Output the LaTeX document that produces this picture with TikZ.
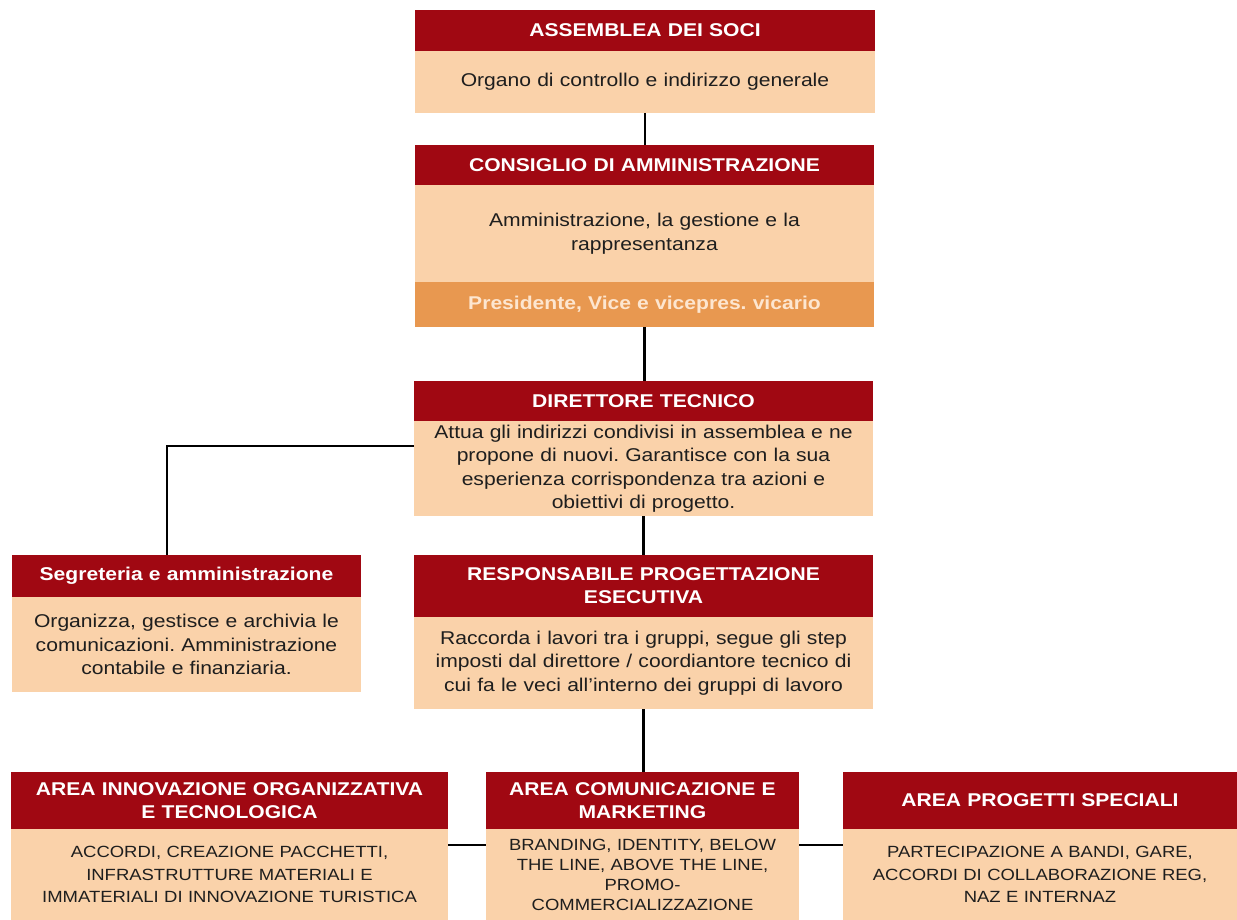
\documentclass[tikz,border=0pt]{standalone}
\usepackage{fontspec}
\setmainfont{Liberation Sans}[FakeStretch=1.14]
\frenchspacing
\definecolor{hred}{RGB}{160,8,18}
\definecolor{peach}{RGB}{250,210,170}
\definecolor{orng}{RGB}{232,152,80}
\definecolor{cream}{RGB}{253,230,208}
\definecolor{txt}{RGB}{30,30,30}
\begin{document}
\begin{tikzpicture}[x=1pt,y=-1pt,
  base/.style={inner sep=0pt, outer sep=0pt, anchor=north west, align=center},
  hdr/.style={base, fill=hred, text=white, font=\bfseries\fontsize{18.5}{23}\selectfont},
  bdy/.style={base, fill=peach, text=txt, font=\fontsize{18.5}{23.5}\selectfont},
  sbdy/.style={base, fill=peach, text=txt, font=\fontsize{16.2}{22.5}\selectfont},
  band/.style={base, fill=orng, text=cream, font=\bfseries\fontsize{18.5}{23}\selectfont},
  conn/.style={draw=black, line width=2.8pt}]
\useasboundingbox (0,0) rectangle (1237,920);
\fill[white] (0,0) rectangle (1237,920);

\node[hdr, minimum width=460pt, minimum height=41pt, text width=440pt] (asH) at (415,10) {ASSEMBLEA DEI SOCI};
\node[bdy, minimum width=460pt, minimum height=62pt, text width=440pt] (asB) at (415,51) {Organo di controllo e indirizzo generale};

\node[hdr, minimum width=459pt, minimum height=40pt, text width=440pt] (coH) at (415,145) {CONSIGLIO DI AMMINISTRAZIONE};
\node[bdy, minimum width=459pt, minimum height=97pt, text width=440pt] (coB) at (415,185) {Amministrazione, la gestione e la\\rappresentanza};
\node[band, minimum width=459pt, minimum height=45pt, text width=440pt] (coP) at (415,282) {Presidente, Vice e vicepres. vicario};

\node[hdr, minimum width=459pt, minimum height=40pt, text width=440pt] (dtH) at (414,381) {DIRETTORE TECNICO};
\node[bdy, minimum width=459pt, minimum height=95pt, text width=450pt] (dtB) at (414,421) {Attua gli indirizzi condivisi in assemblea e ne\\propone di nuovi. Garantisce con la sua\\esperienza corrispondenza tra azioni e\\obiettivi di progetto.};

\node[hdr, minimum width=349pt, minimum height=42pt, text width=340pt] (sgH) at (12,555) {Segreteria e amministrazione};
\node[bdy, minimum width=349pt, minimum height=95pt, text width=340pt] (sgB) at (12,597) {Organizza, gestisce e archivia le\\comunicazioni. Amministrazione\\contabile e finanziaria.};

\node[hdr, minimum width=459pt, minimum height=62pt, text width=440pt] (rpH) at (414,555) {RESPONSABILE PROGETTAZIONE\\ESECUTIVA};
\node[bdy, minimum width=459pt, minimum height=92pt, text width=450pt] (rpB) at (414,617) {Raccorda i lavori tra i gruppi, segue gli step\\imposti dal direttore / coordiantore tecnico di\\cui fa le veci all'interno dei gruppi di lavoro};

\node[hdr, minimum width=437pt, minimum height=57pt, text width=430pt] (inH) at (11,772) {AREA INNOVAZIONE ORGANIZZATIVA\\E TECNOLOGICA};
\node[sbdy, minimum width=437pt, minimum height=91pt, text width=430pt] (inB) at (11,829) {ACCORDI, CREAZIONE PACCHETTI,\\INFRASTRUTTURE MATERIALI E\\IMMATERIALI DI INNOVAZIONE TURISTICA};

\node[hdr, minimum width=313pt, minimum height=57pt, text width=305pt] (cmH) at (486,772) {AREA COMUNICAZIONE E\\MARKETING};
\node[sbdy, font=\fontsize{16.2}{20}\selectfont, minimum width=313pt, minimum height=91pt, text width=305pt] (cmB) at (486,829) {BRANDING, IDENTITY, BELOW\\THE LINE, ABOVE THE LINE,\\PROMO-\\COMMERCIALIZZAZIONE};

\node[hdr, minimum width=394pt, minimum height=57pt, text width=385pt] (pgH) at (843,772) {AREA PROGETTI SPECIALI};
\node[sbdy, minimum width=394pt, minimum height=91pt, text width=385pt] (pgB) at (843,829) {PARTECIPAZIONE A BANDI, GARE,\\ACCORDI DI COLLABORAZIONE REG,\\NAZ E INTERNAZ};

\draw[conn] (asB.south) -- (asB.south |- coH.north);
\draw[conn] (coP.south) -- (coP.south |- dtH.north);
\draw[conn] ([yshift=22.5pt]dtB.west) -| ([xshift=-19.5pt]sgH.north);
\draw[conn] (dtB.south) -- (dtB.south |- rpH.north);
\draw[conn] (rpB.south) -- (rpB.south |- cmH.north);
\draw[conn] ([yshift=29.5pt]inB.east) -- ([yshift=29.5pt]cmB.west);
\draw[conn] ([yshift=29.5pt]cmB.east) -- ([yshift=29.5pt]pgB.west);
\end{tikzpicture}
\end{document}
